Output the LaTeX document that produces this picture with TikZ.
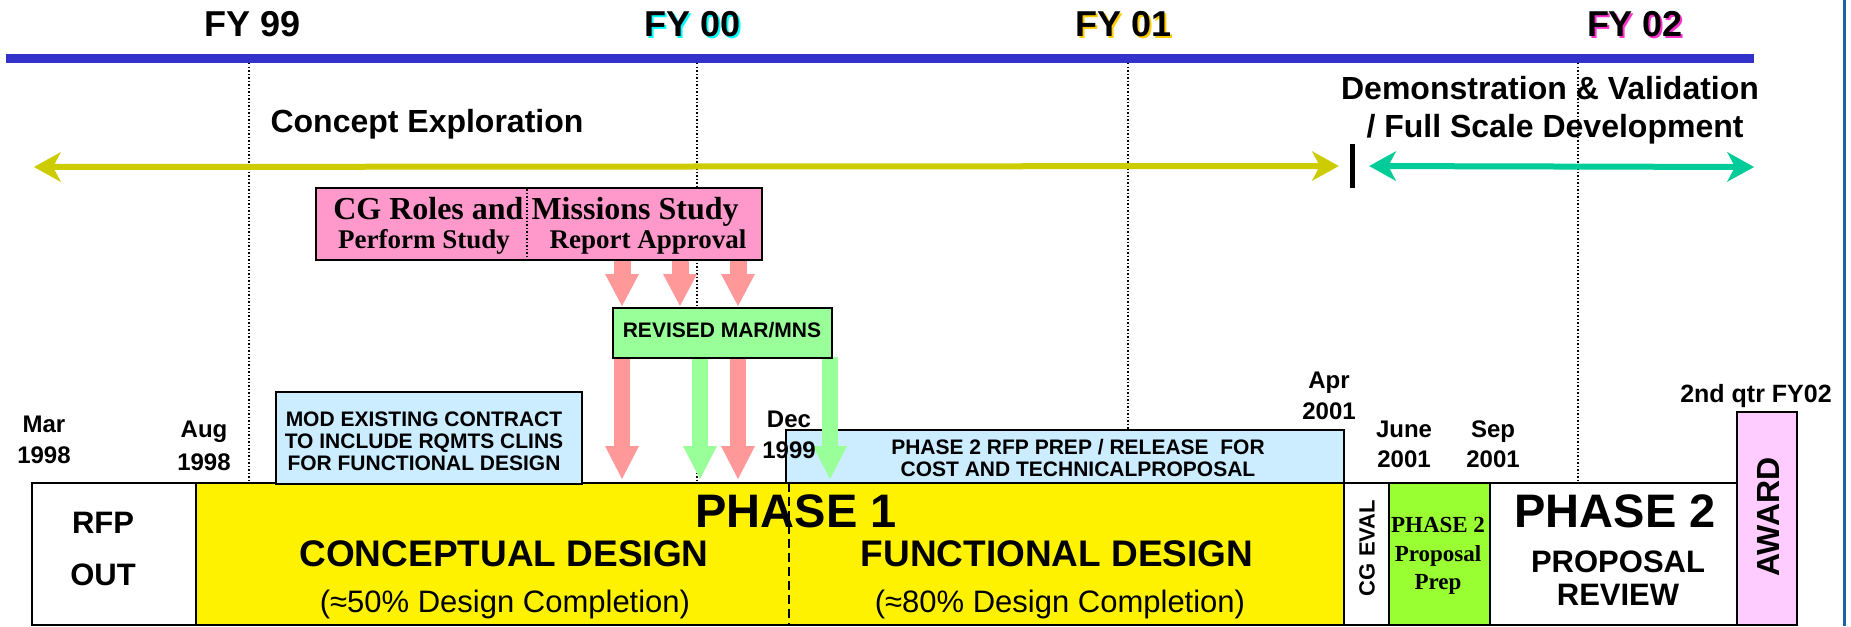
\documentclass[tikz,border=0pt]{standalone}
\usepackage{fontspec}
\setmainfont{Liberation Sans}
\newfontfamily\serifbf{Liberation Serif}
\usetikzlibrary{arrows.meta}
\definecolor{barblue}{HTML}{3333CC}
\definecolor{ceyellow}{HTML}{CCCC00}
\definecolor{dvgreen}{HTML}{00CC99}
\definecolor{boxpink}{HTML}{FF99CC}
\definecolor{arrpink}{HTML}{FF9999}
\definecolor{boxgreen}{HTML}{99FF99}
\definecolor{boxblue}{HTML}{CCECFF}
\definecolor{prepgreen}{HTML}{99FF33}
\definecolor{awardpink}{HTML}{FFCCFF}
\definecolor{edgeblue}{HTML}{2060A8}
\definecolor{fycyan}{HTML}{00FFFF}
\definecolor{fygold}{HTML}{FFCC00}
\definecolor{fypink}{HTML}{FF33CC}
\newcommand\fsz[1]{\fontsize{#1}{#1}\selectfont}
\begin{document}
\begin{tikzpicture}[x=1pt,y=-1pt,
  t/.style={inner sep=0pt,anchor=base},
  rbox/.style={draw=black,line width=2pt,inner sep=0pt},
  dotline/.style={line width=1.5pt,dash pattern=on 1.5pt off 2pt},
  dblarr/.style={line width=6pt,arrows={Stealth[length=27pt,width=30pt,inset=8pt,line width=0pt]-Stealth[length=27pt,width=30pt,inset=8pt,line width=0pt]}},
  fatpink/.style={draw=arrpink,line width=17pt,arrows={-Triangle[length=32pt,width=34pt,line width=0pt]}},
  fatgreen/.style={draw=boxgreen,line width=16pt,arrows={-Triangle[length=33pt,width=34pt,line width=0pt]}},
  fatpinkl/.style={draw=arrpink,line width=16pt,arrows={-Triangle[length=33pt,width=34pt,line width=0pt]}}]
\useasboundingbox (0,0) rectangle (1851,626);
\fill[white] (0,0) rectangle (1851,626);
% top bar and edge
\fill[barblue] (6,54) rectangle (1754,63);
\fill[edgeblue] (1843,0) rectangle (1846,626);
% fiscal year dotted lines
\draw[dotline] (249,63) -- (249,483);
\draw[dotline] (697,63) -- (697,483);
\draw[dotline] (1128,63) -- (1128,483);
\draw[dotline] (1578,63) -- (1578,483);
% FY labels
\node[t,font=\fsz{36}\bfseries] (fy99) at (253,37) {FY 99};
\node[t,font=\fsz{36}\bfseries,text=fycyan] (fy00s) at (695,39) {FY 00};
\node[t,font=\fsz{36}\bfseries] (fy00) at (693,37) {FY 00};
\node[t,font=\fsz{36}\bfseries,text=fygold] (fy01s) at (1126,39) {FY 01};
\node[t,font=\fsz{36}\bfseries] (fy01) at (1124,37) {FY 01};
\node[t,font=\fsz{36}\bfseries,text=fypink] (fy02s) at (1637,39) {FY 02};
\node[t,font=\fsz{36}\bfseries] (fy02) at (1635,37) {FY 02};
% phase labels
\node[t,font=\fsz{32}\bfseries] (ce) at (427,132) {Concept Exploration};
\node[t,font=\fsz{32}\bfseries] (dv1) at (1550,99) {Demonstration \& Validation};
\node[t,font=\fsz{32}\bfseries] (dv2) at (1555,137) {/ Full Scale Development};
% phase arrows
\coordinate (ceL) at (34,167);
\coordinate (dvR) at (1754,167);
\node[fill=black,inner sep=0pt,minimum width=5pt,minimum height=44pt] (sep) at (1352,166) {};
\draw[ceyellow,dblarr,shorten >=10.5pt] (ceL) -- (sep.west);
\draw[dvgreen,dblarr,shorten <=14.5pt] (sep.east) -- (dvR);
% bottom boxes
\node[rbox,fill=white,minimum width=164pt,minimum height=142pt] (rfpout) at (114,554) {};
\node[rbox,fill=yellow,minimum width=1148pt,minimum height=142pt] (phase1) at (770,554) {};
\draw[line width=1.5pt,dash pattern=on 9pt off 5pt] (789,483) -- (789,625);
\node[rbox,fill=white,minimum width=45pt,minimum height=142pt] (cgeval) at (1366.5,554) {};
\node[rbox,fill=prepgreen,minimum width=101pt,minimum height=142pt] (prep) at (1439.5,554) {};
\node[rbox,fill=white,minimum width=247pt,minimum height=142pt] (review) at (1613.5,554) {};
\node[rbox,fill=awardpink,minimum width=60pt,minimum height=213pt] (award) at (1767,518.5) {};
% upper light blue boxes
\node[rbox,fill=boxblue,minimum width=306pt,minimum height=92pt] (mod) at (429,438) {};
\node[rbox,fill=boxblue,minimum width=558pt,minimum height=53pt] (rfp2) at (1065,456.5) {};
% arrow columns
\coordinate (c1) at (622,0);
\coordinate (c2) at (680,0);
\coordinate (c3) at (738,0);
\coordinate (c4) at (700,0);
\coordinate (c5) at (830,0);
% green box position known for arrows
\path (722.5,333) node[rbox,minimum width=219pt,minimum height=50pt] (marpos) {};
\path (539,224) node[rbox,minimum width=446pt,minimum height=72pt] (pinkpos) {};
\draw[fatpink,shorten >=1pt] (c1 |- pinkpos.south) -- (c1 |- marpos.north);
\draw[fatpink,shorten >=1pt] (c2 |- pinkpos.south) -- (c2 |- marpos.north);
\draw[fatpink,shorten >=1pt] (c3 |- pinkpos.south) -- (c3 |- marpos.north);
\draw[fatpinkl,shorten >=3pt] (c1 |- marpos.south) -- (c1 |- phase1.north);
\draw[fatgreen,shorten >=3pt] (c4 |- marpos.south) -- (c4 |- phase1.north);
\draw[fatpinkl,shorten >=3pt] (c3 |- marpos.south) -- (c3 |- phase1.north);
\draw[fatgreen,shorten >=3pt,shorten <=-2pt] (c5 |- marpos.south) -- (c5 |- phase1.north);
% pink and green boxes on top
\node[rbox,fill=boxpink,minimum width=446pt,minimum height=72pt] (pink) at (539,224) {};
\draw[dotline] (527,189) -- (527,259);
\node[rbox,fill=boxgreen,minimum width=219pt,minimum height=50pt] (mar) at (722.5,333) {};
% texts in boxes
\node[t,font=\fsz{32}\serifbf\bfseries] (cgr) at (536,219) {CG Roles and Missions Study};
\node[t,font=\fsz{27}\serifbf\bfseries] (perf) at (424,248) {Perform Study};
\node[t,font=\fsz{27}\serifbf\bfseries] (rep) at (648,248) {Report Approval};
\node[t,font=\fsz{21}\bfseries] (mart) at (722,337) {REVISED MAR/MNS};
\node[t,font=\fsz{21}\bfseries] (mod1) at (424,426) {MOD EXISTING CONTRACT};
\node[t,font=\fsz{21}\bfseries] (mod2) at (424,448) {TO INCLUDE RQMTS CLINS};
\node[t,font=\fsz{21}\bfseries] (mod3) at (424,470) {FOR FUNCTIONAL DESIGN};
\node[t,font=\fsz{21}\bfseries] (rfp2a) at (1078,454) {PHASE 2 RFP PREP / RELEASE\ \ FOR};
\node[t,font=\fsz{21}\bfseries] (rfp2b) at (1078,476) {COST AND TECHNICALPROPOSAL};
% dates
\node[t,font=\fsz{24}\bfseries] (mar1) at (44,432) {Mar};
\node[t,font=\fsz{24}\bfseries] (mar2) at (44,463) {1998};
\node[t,font=\fsz{24}\bfseries] (aug1) at (204,437) {Aug};
\node[t,font=\fsz{24}\bfseries] (aug2) at (204,470) {1998};
\node[t,font=\fsz{24}\bfseries] (dec1) at (789,427) {Dec};
\node[t,font=\fsz{24}\bfseries] (dec2) at (789,458) {1999};
\node[t,font=\fsz{24}\bfseries] (apr1) at (1329,388) {Apr};
\node[t,font=\fsz{24}\bfseries] (apr2) at (1329,419) {2001};
\node[t,font=\fsz{24}\bfseries] (jun1) at (1404,437) {June};
\node[t,font=\fsz{24}\bfseries] (jun2) at (1404,467) {2001};
\node[t,font=\fsz{24}\bfseries] (sep1) at (1493,437) {Sep};
\node[t,font=\fsz{24}\bfseries] (sep2) at (1493,467) {2001};
\node[t,font=\fsz{25}\bfseries] (qtr) at (1756,402) {2nd qtr FY02};
% bottom box texts
\node[t,font=\fsz{31}\bfseries] (rfpa) at (103,533) {RFP};
\node[t,font=\fsz{31}\bfseries] (rfpb) at (103,585) {OUT};
\node[t,font=\fsz{47}\bfseries] (ph1) at (796,527) {PHASE 1};
\node[t,font=\fsz{37}\bfseries] (cd) at (504,566) {CONCEPTUAL DESIGN};
\node[t,font=\fsz{31}] (cdp) at (505,612) {(≈50\% Design Completion)};
\node[t,font=\fsz{37}\bfseries] (fd) at (1057,566) {FUNCTIONAL DESIGN};
\node[t,font=\fsz{31}] (fdp) at (1060,612) {(≈80\% Design Completion)};
\node[inner sep=0pt,rotate=90,font=\fsz{22}\bfseries] (cge) at (1367,548) {CG EVAL};
\node[t,font=\fsz{23}\serifbf\bfseries] (pr1) at (1438,532) {PHASE 2};
\node[t,font=\fsz{23}\serifbf\bfseries] (pr2) at (1438,561) {Proposal};
\node[t,font=\fsz{23}\serifbf\bfseries] (pr3) at (1438,589) {Prep};
\node[t,font=\fsz{47}\bfseries] (ph2) at (1615,527) {PHASE 2};
\node[t,font=\fsz{31}\bfseries] (rv1) at (1618,572) {PROPOSAL};
\node[t,font=\fsz{31}\bfseries] (rv2) at (1618,605) {REVIEW};
\node[inner sep=0pt,rotate=90,font=\fsz{32}\bfseries] (aw) at (1768,517) {AWARD};
\end{tikzpicture}
\end{document}
